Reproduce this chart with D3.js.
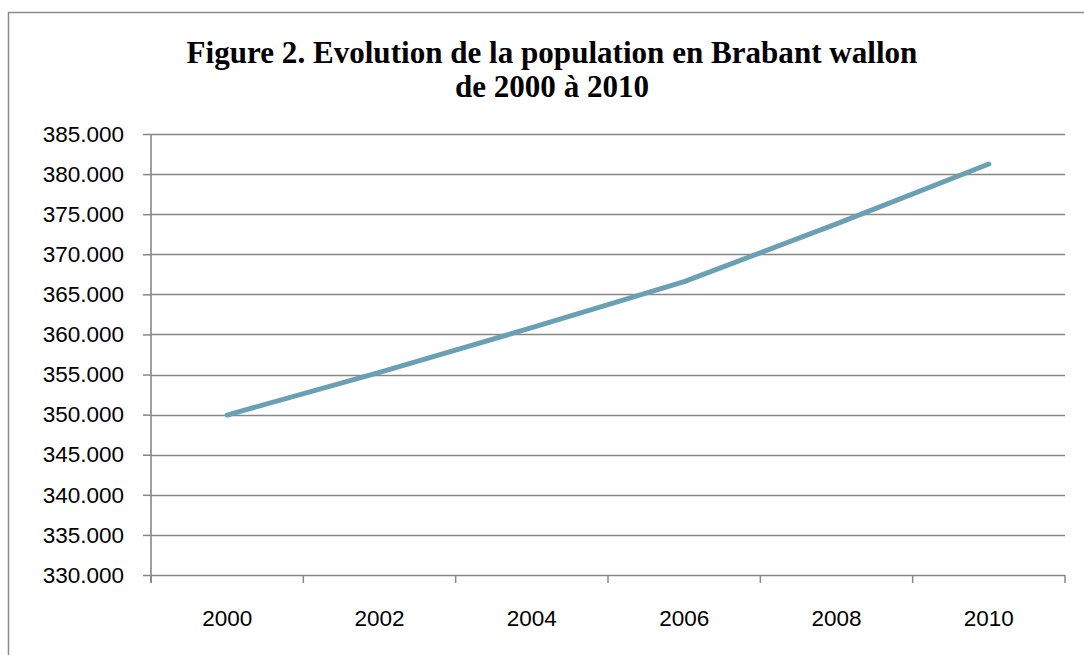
<!DOCTYPE html>
<html>
<head>
<meta charset="utf-8">
<script src="https://cdn.jsdelivr.net/npm/d3@7"></script>
<style>
  html, body { margin: 0; padding: 0; background: #fff; }
  svg { display: block; }
</style>
</head>
<body>
<svg id="chart" width="1084" height="655"></svg>
<script>
// ---- data ----
const titleLines = ["Figure 2. Evolution de la population en Brabant wallon", "de 2000 à 2010"];
const years = ["2000", "2002", "2004", "2006", "2008", "2010"];
const population = [349950, 355270, 360840, 366580, 373790, 381260];
const yTicks = [330000, 335000, 340000, 345000, 350000, 355000, 360000, 365000, 370000, 375000, 380000, 385000];

// ---- layout ----
const W = 1084, H = 655;
const plot = { left: 151, right: 1065, top: 134, bottom: 575 };
const gridColor = "#878787";
const lineColor = "#6aa0b3";
const labelFont = "'Liberation Sans', Arial, sans-serif";

const svg = d3.select("#chart");
svg.append("rect").attr("width", W).attr("height", H).attr("fill", "#fff");

// chart border (top + left visible)
svg.append("path")
  .attr("d", `M8.5,${H + 2} L8.5,12.5 L${W + 2},12.5`)
  .attr("fill", "none").attr("stroke", "#8c8c8c").attr("stroke-width", 1.5);

// title
const title = svg.append("text")
  .attr("text-anchor", "middle")
  .attr("font-family", "'Liberation Serif', 'Times New Roman', serif")
  .attr("font-weight", "bold")
  .attr("font-size", 26)
  .attr("fill", "#000");
title.selectAll("tspan").data(titleLines).join("tspan")
  .attr("x", 552)
  .attr("y", (d, i) => 63 + i * 34)
  .text(d => d);
// fit title width to reference
const firstLen = title.select("tspan").node().getComputedTextLength();
if (firstLen > 0) {
  title.attr("font-size", 26 * 731 / firstLen);
}

const fmt = d3.formatLocale({ decimal: ",", thousands: ".", grouping: [3], currency: ["", "€"] }).format(",");

const x = d3.scaleBand().domain(years).range([plot.left, plot.right]).padding(0);
const y = d3.scaleLinear().domain([330000, 385000]).range([plot.bottom, plot.top]);

// y axis with gridlines
const yAxis = d3.axisLeft(y).tickValues(yTicks).tickFormat(fmt).tickSize(8).tickPadding(19);
const gy = svg.append("g").attr("transform", `translate(${plot.left},0)`).call(yAxis);
gy.select(".domain").remove();
gy.selectAll(".tick line").attr("stroke", gridColor).attr("stroke-width", 1.5);
gy.selectAll(".tick text")
  .attr("font-family", labelFont).attr("font-size", 22.5).attr("fill", "#000");

// horizontal gridlines
svg.append("g").selectAll("line").data(yTicks).join("line")
  .attr("x1", plot.left).attr("x2", plot.right)
  .attr("y1", d => Math.round(y(d)) + 0.5).attr("y2", d => Math.round(y(d)) + 0.5)
  .attr("stroke", gridColor).attr("stroke-width", 1.6);

// y axis line
svg.append("line")
  .attr("x1", plot.left).attr("x2", plot.left)
  .attr("y1", plot.top).attr("y2", plot.bottom + 8)
  .attr("stroke", gridColor).attr("stroke-width", 1.6);

// x axis ticks at category boundaries
const bounds = years.map(d => x(d)).concat([x.range()[1]]);
svg.append("g").selectAll("line").data(bounds).join("line")
  .attr("x1", d => d).attr("x2", d => d)
  .attr("y1", plot.bottom).attr("y2", plot.bottom + 8)
  .attr("stroke", gridColor).attr("stroke-width", 1.5);

// x labels
const xAxis = d3.axisBottom(x).tickSize(0).tickPadding(0);
const gx = svg.append("g").attr("transform", `translate(0,${plot.bottom})`).call(xAxis);
gx.select(".domain").remove();
gx.selectAll(".tick text")
  .attr("font-family", labelFont).attr("font-size", 22.5).attr("fill", "#000")
  .attr("dy", null).attr("y", 50.5);

// line
const line = d3.line()
  .x((d, i) => x(years[i]) + x.bandwidth() / 2)
  .y(d => y(d));
svg.append("path")
  .datum(population)
  .attr("d", line)
  .attr("fill", "none")
  .attr("stroke", lineColor)
  .attr("stroke-width", 5)
  .attr("stroke-linecap", "round")
  .attr("stroke-linejoin", "round");
</script>
</body>
</html>
